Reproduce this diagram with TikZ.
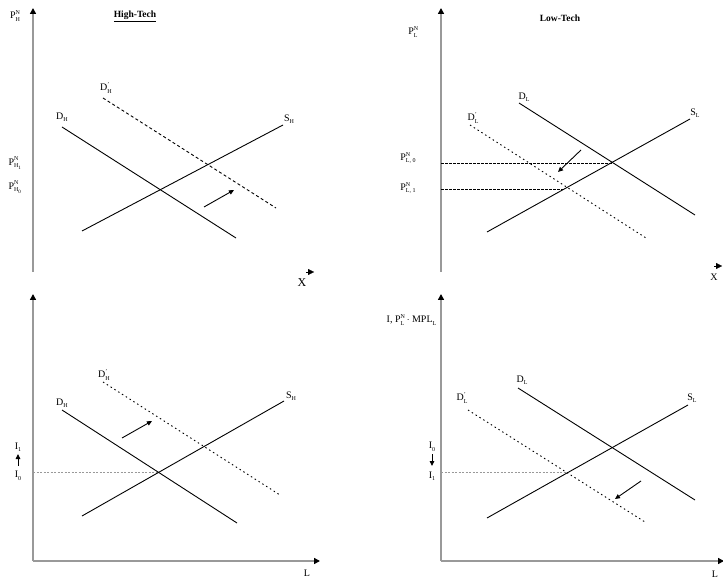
\documentclass[tikz,border=0pt]{standalone}
\usepackage{fontspec}
\setmainfont{Liberation Serif}
\usetikzlibrary{arrows.meta}
\newcommand\lbsp[3]{#1\makebox[0pt][l]{\raisebox{0.95ex}{\fontsize{6}{6}\selectfont #3}}\raisebox{-0.55ex}{\fontsize{6}{6}\selectfont #2}}
\begin{document}
\begin{tikzpicture}[x=1pt,y=-1pt,
  axis/.style={draw=black!40,line width=1.8pt,-{Triangle[length=6pt,width=6pt,color=black]}},
  curve/.style={draw=black,line width=0.9pt},
  dcurve/.style={draw=black,line width=0.9pt,dash pattern=on 3pt off 2.5pt},
  dotcurve/.style={draw=black,line width=0.9pt,dash pattern=on 1.5pt off 3pt},
  guide/.style={draw=black,line width=0.8pt,dash pattern=on 2.5pt off 1.5pt},
  gguide/.style={draw=black!40,line width=0.7pt,dash pattern=on 2pt off 1.5pt},
  shiftarrow/.style={draw=black,line width=0.9pt,-{Triangle[length=5pt,width=4.5pt]}},
  lbl/.style={font=\fontsize{10}{11}\selectfont,inner sep=0.5pt},
  ttl/.style={font=\fontsize{9.5}{11}\selectfont\bfseries,inner sep=0.5pt}]
\useasboundingbox (0,0) rectangle (723,577);

% ---------------- Top-left: High-Tech ----------------
\coordinate (A1o) at (33,272);
\coordinate (A1t) at (33,8);
\draw[axis] (A1o) -- (A1t);
\coordinate (X1a) at (306,272);
\coordinate (X1b) at (314,272);
\draw[draw=black,line width=0.1pt,-{Triangle[length=6pt,width=6pt]}] (X1a) -- (X1b);
\node[lbl,font=\fontsize{12}{13}\selectfont] (X1) at (302,283) {X};
\node[lbl] (PH) at (15,16) {\lbsp{P}{H}{N}};
\node[ttl] (T1) at (135,16) {\underline{High-Tech}};
\node[lbl] (PH1) at (15,163) {\lbsp{P}{H\textsubscript{1}}{N}};
\node[lbl] (PH0) at (15,187) {\lbsp{P}{H\textsubscript{0}}{N}};
\coordinate (dh1a) at (62,127); \coordinate (dh1b) at (236,238);
\coordinate (dp1a) at (103,98); \coordinate (dp1b) at (276,208);
\coordinate (sh1a) at (82,231); \coordinate (sh1b) at (283,125);
\draw[curve] (dh1a) -- (dh1b);
\draw[dcurve] (dp1a) -- (dp1b);
\draw[curve] (sh1a) -- (sh1b);
\node[lbl] (DH1) at (62,117) {\lbsp{D}{H}{}};
\node[lbl] (DP1) at (106,88) {\lbsp{D}{H}{'}};
\node[lbl] (SH1) at (289,119) {\lbsp{S}{H}{}};
\coordinate (ar1a) at (204,207); \coordinate (ar1b) at (234,190);
\draw[shiftarrow] (ar1a) -- (ar1b);

% ---------------- Top-right: Low-Tech ----------------
\coordinate (A2o) at (441,272);
\coordinate (A2t) at (441,8);
\draw[axis] (A2o) -- (A2t);
\coordinate (X2a) at (714,266);
\coordinate (X2b) at (722,266);
\draw[draw=black,line width=0.1pt,-{Triangle[length=6pt,width=6pt]}] (X2a) -- (X2b);
\node[lbl] (X2) at (714,277) {X};
\node[lbl] (PL) at (413,32) {\lbsp{P}{L}{N}};
\node[ttl] (T2) at (560,18) {Low-Tech};
\node[lbl] (PL0) at (408,158) {\lbsp{P}{L, 0}{N}};
\node[lbl] (PL1) at (408,188) {\lbsp{P}{L, 1}{N}};
\coordinate (dl2a) at (519,103); \coordinate (dl2b) at (695,215);
\coordinate (dp2a) at (470,125); \coordinate (dp2b) at (646,238);
\coordinate (sl2a) at (487,232); \coordinate (sl2b) at (690,119);
\coordinate (e20) at (613,163); \coordinate (e21) at (564,189);
\coordinate (g20) at (441,163); \coordinate (g21) at (441,189);
\draw[guide] (g20) -- (e20);
\draw[guide] (g21) -- (e21);
\draw[curve] (dl2a) -- (dl2b);
\draw[dotcurve] (dp2a) -- (dp2b);
\draw[curve] (sl2a) -- (sl2b);
\node[lbl] (DL2) at (524,97) {\lbsp{D}{L}{}};
\node[lbl] (DP2) at (473,118) {\lbsp{D}{L}{'}};
\node[lbl] (SL2) at (695,113) {\lbsp{S}{L}{}};
\coordinate (ar2a) at (581,150); \coordinate (ar2b) at (558,172);
\draw[shiftarrow] (ar2a) -- (ar2b);

% ---------------- Bottom-left ----------------
\coordinate (A3o) at (33,561);
\coordinate (A3t) at (33,294);
\coordinate (A3r) at (320,561);
\draw[axis] (A3o) -- (A3t);
\draw[axis] (A3o) -- (A3r);
\node[lbl] (L3) at (307,573) {L};
\node[lbl] (I31) at (18,447) {\lbsp{I}{1}{}};
\node[lbl] (I30) at (18,476) {\lbsp{I}{0}{}};
\coordinate (u3a) at (18,466); \coordinate (u3b) at (18,454);
\draw[shiftarrow] (u3a) -- (u3b);
\coordinate (dh3a) at (62,410); \coordinate (dh3b) at (237,523);
\coordinate (dp3a) at (103,382); \coordinate (dp3b) at (280,495);
\coordinate (sh3a) at (82,516); \coordinate (sh3b) at (284,401);
\coordinate (e3) at (158,472); \coordinate (g3) at (33,472);
\draw[gguide] (g3) -- (e3);
\draw[curve] (dh3a) -- (dh3b);
\draw[dotcurve] (dp3a) -- (dp3b);
\draw[curve] (sh3a) -- (sh3b);
\node[lbl] (DH3) at (62,403) {\lbsp{D}{H}{}};
\node[lbl] (DP3) at (104,375) {\lbsp{D}{H}{'}};
\node[lbl] (SH3) at (291,396) {\lbsp{S}{H}{}};
\coordinate (ar3a) at (122,438); \coordinate (ar3b) at (152,421);
\draw[shiftarrow] (ar3a) -- (ar3b);

% ---------------- Bottom-right ----------------
\coordinate (A4o) at (441,561);
\coordinate (A4t) at (441,294);
\coordinate (A4r) at (724,561);
\draw[axis] (A4o) -- (A4t);
\draw[axis] (A4o) -- (A4r);
\node[lbl] (L4) at (715,574) {L};
\node[lbl,anchor=east] (YL4) at (437,320) {I, \lbsp{P}{L}{N} $\cdot$ \lbsp{MPL}{L}{}};
\node[lbl] (I40) at (432,447) {\lbsp{I}{0}{}};
\node[lbl] (I41) at (432,476) {\lbsp{I}{1}{}};
\coordinate (d4a) at (432,454); \coordinate (d4b) at (432,466);
\draw[shiftarrow] (d4a) -- (d4b);
\coordinate (dl4a) at (518,388); \coordinate (dl4b) at (695,500);
\coordinate (dp4a) at (468,410); \coordinate (dp4b) at (645,522);
\coordinate (sl4a) at (487,518); \coordinate (sl4b) at (688,405);
\coordinate (e4) at (568,472); \coordinate (g4) at (441,472);
\draw[gguide] (g4) -- (e4);
\draw[curve] (dl4a) -- (dl4b);
\draw[dotcurve] (dp4a) -- (dp4b);
\draw[curve] (sl4a) -- (sl4b);
\node[lbl] (DL4) at (522,380) {\lbsp{D}{L}{}};
\node[lbl] (DP4) at (462,398) {\lbsp{D}{L}{'}};
\node[lbl] (SL4) at (692,398) {\lbsp{S}{L}{}};
\coordinate (ar4a) at (641,481); \coordinate (ar4b) at (615,499);
\draw[shiftarrow] (ar4a) -- (ar4b);
\end{tikzpicture}
\end{document}
